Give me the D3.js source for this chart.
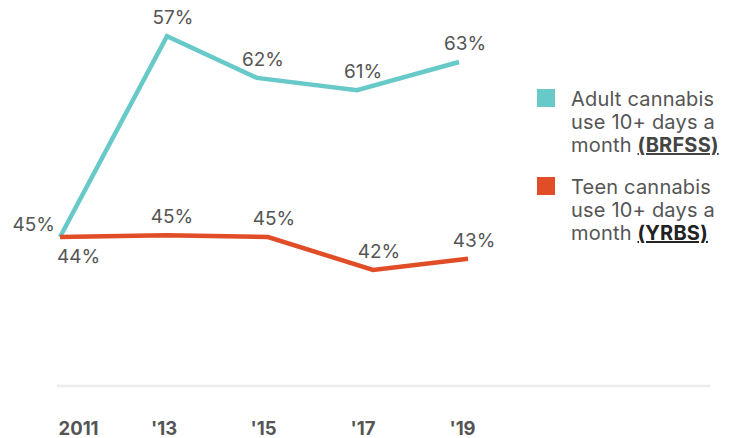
<!DOCTYPE html>
<html>
<head>
<meta charset="utf-8">
<script src="https://cdn.jsdelivr.net/npm/d3@7"></script>
<style>
  html, body { margin: 0; padding: 0; background: #fff; }
  svg { display: block; }
  text { font-family: Inter, "Noto Sans", sans-serif; }
</style>
</head>
<body>
<svg id="chart" width="746" height="438"></svg>
<script>
// ---- data ----
const tickYears = [2011, 2013, 2015, 2017, 2019];
const tickLabels = ["2011", "'13", "'15", "'17", "'19"];

// plotted positions as drawn in the original (x in years, y on a 0-100 plot index)
const adultX = [2011, 2013.14, 2014.94, 2016.94, 2018.98];
const adultPlot = [40.0, 94.3, 83.0, 79.7, 87.3];
const adultLabels = ["45%", "57%", "62%", "61%", "63%"];

const teenX = [2011, 2013.12, 2015.16, 2017.26, 2019.16];
const teenPlot = [40.0, 40.5, 40.0, 31.1, 34.1];
const teenLabels = ["44%", "45%", "45%", "42%", "43%"];

const legendAdult = ["Adult cannabis", "use 10+ days a", "month "];
const legendAdultSrc = "(BRFSS)";
const legendTeen = ["Teen cannabis", "use 10+ days a", "month "];
const legendTeenSrc = "(YRBS)";

const teal = "#68c9c9";
const orange = "#e04d26";
const labelGrey = "#555555";

// ---- scales ----
const svg = d3.select("#chart");
const x = d3.scaleLinear().domain([2011, 2019]).range([60, 458]);
const y = d3.scaleLinear().domain([0, 100]).range([385, 15]);

// baseline
svg.append("line")
  .attr("x1", 57).attr("x2", 710)
  .attr("y1", 386).attr("y2", 386)
  .attr("stroke", "#ececec").attr("stroke-width", 2.5);

// x axis tick labels
const axis = d3.axisBottom(x).tickValues(tickYears)
  .tickFormat((d, i) => tickLabels[i]).tickSize(0).tickPadding(0);
const gx = svg.append("g").attr("transform", "translate(0,435)").call(axis);
gx.select(".domain").remove();
gx.selectAll("text")
  .attr("dy", 0)
  .attr("y", 0)
  .attr("text-anchor", (d, i) => i === 0 ? "start" : "middle")
  .attr("dx", (d, i) => i === 0 ? -2 : 4)
  .style("font-family", "Inter, sans-serif")
  .style("font-size", "18.5px")
  .style("font-weight", "700")
  .attr("fill", labelGrey);

// lines
const line = d3.line().x(d => x(d[0])).y(d => y(d[1]));
const x2 = d3.scaleLinear().domain([2011, 2019]).range([60, 460]);
const line2 = d3.line().x(d => x2(d[0])).y(d => y(d[1]));
const adultData = adultX.map((v, i) => [v, adultPlot[i]]);
const teenData = teenX.map((v, i) => [v, teenPlot[i]]);

svg.append("path").datum(adultData)
  .attr("d", line2).attr("fill", "none")
  .attr("stroke", teal).attr("stroke-width", 4.5)
  .attr("stroke-linejoin", "miter");
svg.append("path").datum(teenData)
  .attr("d", line2).attr("fill", "none")
  .attr("stroke", orange).attr("stroke-width", 4.5)
  .attr("stroke-linejoin", "miter");

// value labels
function addLabels(data, labels, firstMode) {
  svg.append("g").selectAll("text").data(data).join("text")
    .attr("x", (d, i) => i === 0 ? (firstMode === "left" ? x2(d[0]) - 5 : x2(d[0]) - 3) : x2(d[0]) + 6)
    .attr("y", (d, i) => i === 0 ? (firstMode === "left" ? y(d[1]) - 6 : y(d[1]) + 26) : y(d[1]) - 12)
    .attr("text-anchor", (d, i) => i === 0 ? (firstMode === "left" ? "end" : "start") : "middle")
    .attr("font-size", 19)
    .attr("fill", labelGrey)
    .text((d, i) => labels[i]);
}
addLabels(adultData, adultLabels, "left");
addLabels(teenData, teenLabels, "below");

// legend
function addLegend(top, color, lines, src, srcColor) {
  const g = svg.append("g");
  g.append("rect").attr("x", 537).attr("y", top).attr("width", 18).attr("height", 18).attr("fill", color);
  const t = g.append("text").attr("x", 571).attr("y", top + 17)
    .attr("font-size", 20).attr("letter-spacing", 0.2).attr("fill", labelGrey);
  lines.forEach((l, i) => {
    t.append("tspan").attr("x", 571).attr("dy", i === 0 ? 0 : 23).text(l);
  });
  t.append("tspan").attr("font-weight", 700).attr("fill", srcColor)
    .style("text-decoration", "underline")
    .text(src);
}
addLegend(89, teal, legendAdult, legendAdultSrc, "#444");
addLegend(177, orange, legendTeen, legendTeenSrc, "#222");
</script>
</body>
</html>
